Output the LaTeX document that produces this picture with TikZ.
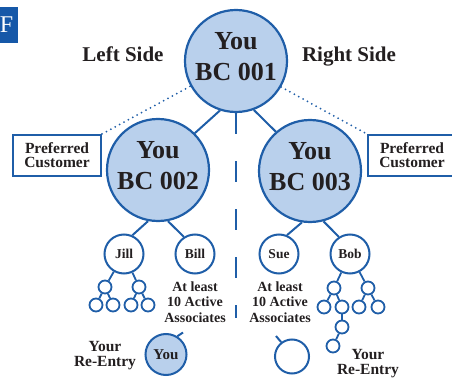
\documentclass[tikz,border=0pt]{standalone}
\usepackage{fontspec}
\setmainfont{Liberation Serif}
\definecolor{bcblue}{RGB}{31,94,168}
\definecolor{bcdeep}{RGB}{22,88,168}
\definecolor{bcfill}{RGB}{185,208,236}
\definecolor{bcink}{RGB}{35,31,32}
\begin{document}
\begin{tikzpicture}[x=1pt,y=-1pt,text=bcink,
	bigc/.style={circle,draw=bcblue,fill=bcfill,line width=2.2pt,minimum size=102pt,inner sep=0pt,align=center,font=\fontsize{26}{31}\selectfont\bfseries,text depth=10pt},
	person/.style={circle,draw=bcblue,fill=white,line width=2pt,minimum size=39pt,inner sep=0pt,font=\fontsize{13.5}{13.5}\selectfont\bfseries},
	tiny/.style={circle,draw=bcblue,fill=white,line width=1.8pt,minimum size=13pt,inner sep=0pt},
	link/.style={draw=bcblue,line width=2pt},
	twig/.style={draw=bcblue,line width=1.8pt},
	prefbox/.style={draw=bcblue,fill=white,line width=2pt,minimum width=88pt,minimum height=41pt,inner sep=0pt,align=center,font=\fontsize{15.5}{14}\selectfont\bfseries},
	note/.style={align=center,inner sep=0pt,font=\fontsize{14}{15.5}\selectfont\bfseries},
	sidetext/.style={anchor=base,inner sep=0pt,font=\fontsize{21}{21}\selectfont\bfseries},
	dots/.style={draw=bcblue,line width=2pt,line cap=round,dash pattern=on 0pt off 5pt},
	midline/.style={draw=bcblue,line width=2pt,dash pattern=on 21pt off 27pt}]

	\useasboundingbox (0,0) rectangle (452,379);

	% section tab
	\fill[bcdeep] (-5,7) rectangle (18,43);
	\node[text=white,inner sep=0pt,font=\fontsize{24}{24}\selectfont] (tab) at (6.5,25) {F};

	% main centres
	\node[bigc] (top) at (236,61) {You\\BC 001};
	\node[bigc] (lft) at (158,170) {You\\BC 002};
	\node[bigc] (rgt) at (310,171) {You\\BC 003};

	\node[sidetext] (lside) at (123,62) {Left Side};
	\node[sidetext] (rside) at (349,62) {Right Side};

	% preferred customers
	\node[prefbox] (prefL) at (57,155.5) {Preferred\\Customer};
	\node[prefbox] (prefR) at (412,155.5) {Preferred\\Customer};
	\draw[dots] (prefL.north east) -- (top.209);
	\draw[dots] (top.330) -- (prefR.north west);

	\draw[link] (top.252) -- (lft.45);
	\draw[link] (top.290) -- (rgt.131);

	% split between the two sides
	\coordinate (mend) at (236,318);
	\draw[midline] (top.south) -- (mend);

	% first level
	\node[person] (jill) at (124,254) {Jill};
	\node[person] (bill) at (195,254) {Bill};
	\node[person] (sue) at (279,254) {Sue};
	\node[person] (bob) at (350,254) {Bob};
	\draw[link] (lft.259) -- (jill.66);
	\draw[link] (lft.281) -- (bill.123);
	\draw[link] (rgt.261) -- (sue.67);
	\draw[link] (rgt.285) -- (bob.123);

	% under Jill
	\node[tiny] (ja) at (105,287) {};
	\node[tiny] (jb) at (139,287) {};
	\node[tiny] (ja1) at (96,305) {};
	\node[tiny] (ja2) at (113,305) {};
	\node[tiny] (jb1) at (131,305) {};
	\node[tiny] (jb2) at (148,305) {};
	\draw[twig] (jill) -- (ja);
	\draw[twig] (jill) -- (jb);
	\draw[twig] (ja) -- (ja1);
	\draw[twig] (ja) -- (ja2);
	\draw[twig] (jb) -- (jb1);
	\draw[twig] (jb) -- (jb2);

	% under Bob
	\node[tiny] (ba) at (334,288) {};
	\node[tiny] (bb) at (368,288) {};
	\node[tiny] (ba1) at (324,307) {};
	\node[tiny] (ba2) at (342,307) {};
	\node[tiny] (bb1) at (359,307) {};
	\node[tiny] (bb2) at (378,307) {};
	\node[tiny] (bc) at (342,327) {};
	\node[tiny] (bd) at (333,346) {};
	\draw[twig] (bob) -- (ba);
	\draw[twig] (bob) -- (bb);
	\draw[twig] (ba) -- (ba1);
	\draw[twig] (ba) -- (ba2);
	\draw[twig] (bb) -- (bb1);
	\draw[twig] (bb) -- (bb2);
	\draw[twig] (ba2) -- (bc);
	\draw[twig] (bc) -- (bd);

	% notes
	\node[note] (billnote) at (195,302) {At least\\10 Active\\Associates};
	\node[note] (suenote) at (280,302) {At least\\10 Active\\Associates};
	\node[note,font=\fontsize{15.5}{15.5}\selectfont\bfseries] (reL) at (105,355.5) {Your\\Re-Entry};
	\node[note,font=\fontsize{15.5}{15.5}\selectfont\bfseries] (reR) at (368,363.5) {Your\\Re-Entry};

	% re-entry spots
	\node[circle,draw=bcblue,fill=bcfill,line width=2pt,minimum size=41pt,inner sep=0pt,font=\fontsize{15}{15}\selectfont\bfseries] (reyou) at (166,354.5) {You};
	\coordinate (youtip) at (183,332.5);
	\draw[link] (reyou.58) -- (youtip);
	\node[circle,draw=bcblue,fill=white,line width=2pt,minimum size=34pt,inner sep=0pt] (open) at (292,356.5) {};
	\coordinate (opentip) at (276,336);
	\draw[link] (open.127) -- (opentip);

\end{tikzpicture}
\end{document}
